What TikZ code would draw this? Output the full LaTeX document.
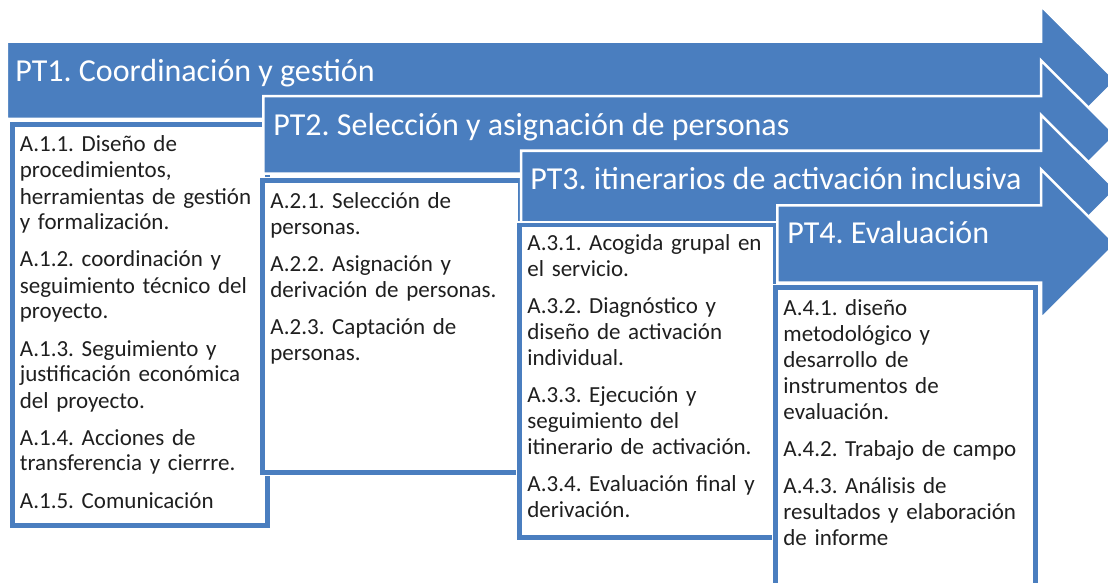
\documentclass[tikz,border=0pt]{standalone}
\usepackage{fontspec}
\setmainfont{Carlito}
\usepackage{xcolor}
\usepackage{tikz}
\usetikzlibrary{positioning}

\definecolor{ptblue}{HTML}{4A7EBF}
\frenchspacing

\begin{document}
\begin{tikzpicture}
  [ x=0.5pt, y=-0.5pt,
    band/.style={fill=ptblue, draw=white, line width=1.25pt, line join=miter},
    boxrim/.style={draw=white, fill=white, line width=3.75pt},
    boxline/.style={draw=ptblue, line width=2.25pt},
    title/.style={anchor=base west, inner sep=0pt, text=white,
      font=\fontsize{16}{19}\selectfont},
    items/.style={anchor=base west, inner sep=0pt, text width=128pt,
      align=left, text=black!88, font=\fontsize{11.5}{13}\selectfont}
  ]

  \useasboundingbox (0,0) rectangle (1108,583);

  % PT1
  \path [band] (6.75,41.75) -- (1041,41.75) -- (1041,6) -- (1116,80.5)
    -- (1041,155) -- (1041,119) -- (6.75,119) -- cycle;
  \node (pt1) at (15,82) [title] {PT1. Coordinación y gestión};
  \path [boxrim] (12.5,124.5) rectangle (267.5,525.5);
  \path [boxline] (12.5,124.5) rectangle (267.5,525.5);
  \node (a1) at (19.5,152) [items] {A.1.1. Diseño de\\ procedimientos,\\
    herramientas de gestión\\ y formalización.\\[5.5pt]
    A.1.2. coordinación y\\ seguimiento técnico del\\ proyecto.\\[5.5pt]
    A.1.3. Seguimiento y\\ justificación económica\\ del proyecto.\\[5.5pt]
    A.1.4. Acciones de\\ transferencia y cierrre.\\[5.5pt]
    A.1.5. Comunicación};

  % PT2
  \path [band] (263.25,96.25) -- (1041,96.25) -- (1041,60.5) -- (1116,135)
    -- (1041,209.5) -- (1041,173.5) -- (263.25,173.5) -- cycle;
  \node (pt2) at (273,135) [title] {PT2. Selección y asignación de personas};
  \path [boxrim] (262.5,180.5) rectangle (520,472.5);
  \path [boxline] (262.5,180.5) rectangle (520,472.5);
  \node (a2) at (270,208) [items] {A.2.1. Selección de\\ personas.\\[5.5pt]
    A.2.2. Asignación y\\ derivación de personas.\\[5.5pt]
    A.2.3. Captación de\\ personas.};

  % PT3
  \path [band] (521,150.75) -- (1041,150.75) -- (1041,115) -- (1116,189.5)
    -- (1041,264) -- (1041,228) -- (521,228) -- cycle;
  \node (pt3) at (530,190) [title] {PT3. itinerarios de activación inclusiva};
  \path [boxrim] (519.5,225) rectangle (775.5,537.5);
  \path [boxline] (519.5,225) rectangle (775.5,537.5);
  \node (a3) at (527,250) [items] {A.3.1. Acogida grupal en\\ el servicio.\\[5.5pt]
    A.3.2. Diagnóstico y\\ diseño de activación\\ individual.\\[5.5pt]
    A.3.3. Ejecución y\\ seguimiento del\\ itinerario de activación.\\[5.5pt]
    A.3.4. Evaluación final y\\ derivación.};

  % PT4
  \path [band] (777.25,205.25) -- (1041,205.25) -- (1041,169.5) -- (1116,244)
    -- (1041,318.5) -- (1041,282.5) -- (777.25,282.5) -- cycle;
  \node (pt4) at (787,243) [title] {PT4. Evaluación};
  \path [boxrim] (775.5,287.5) rectangle (1035.5,610);
  \path [boxline] (775.5,287.5) rectangle (1035.5,610);
  \node (a4) at (783,315) [items] {A.4.1. diseño\\ metodológico y\\
    desarrollo de\\ instrumentos de\\ evaluación.\\[5.5pt]
    A.4.2. Trabajo de campo\\[5.5pt]
    A.4.3. Análisis de\\ resultados y elaboración\\ de informe};
\end{tikzpicture}
\end{document}
